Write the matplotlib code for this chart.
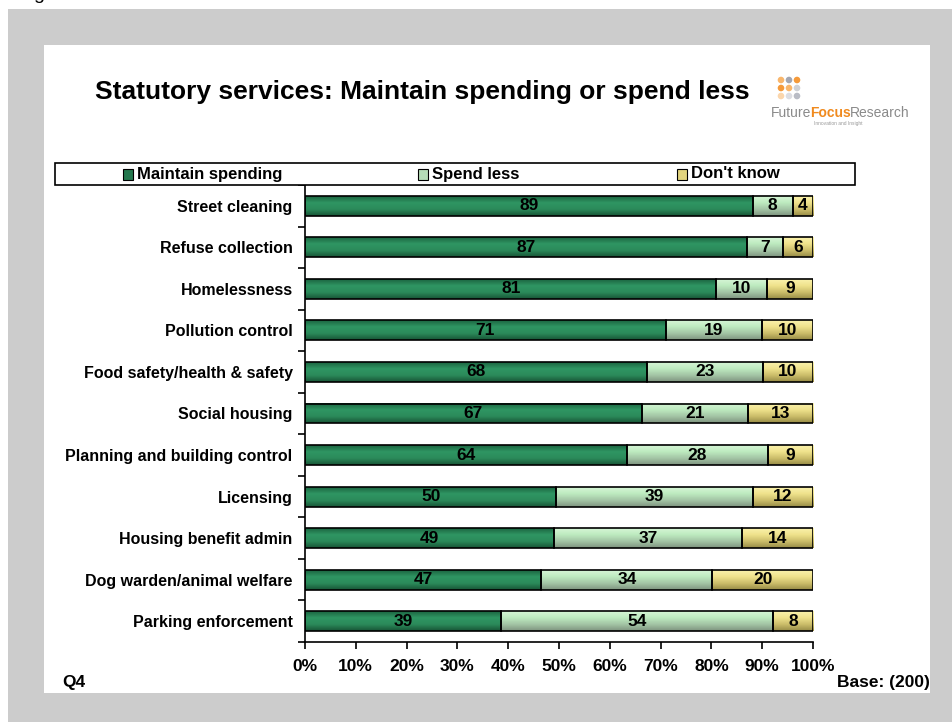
import matplotlib.pyplot as plt
import matplotlib.patches as patches
from matplotlib.colors import LinearSegmentedColormap
import numpy as np

plt.rcParams['font.family'] = ['Liberation Sans', 'DejaVu Sans']

# Survey results (raw % as reported, rows may sum to 101)
services = [
    "Street cleaning", "Refuse collection", "Homelessness", "Pollution control",
    "Food safety/health & safety", "Social housing", "Planning and building control",
    "Licensing", "Housing benefit admin", "Dog warden/animal welfare", "Parking enforcement",
]
maintain = [89, 87, 81, 71, 68, 67, 64, 50, 49, 47, 39]
spend_less = [8, 7, 10, 19, 23, 21, 28, 39, 37, 34, 54]
dont_know = [4, 6, 9, 10, 10, 13, 9, 12, 14, 20, 8]
series_names = ["Maintain spending", "Spend less", "Don't know"]
x_ticks = list(range(0, 101, 10))

# vertical gradients, top to bottom
grad_maps = [
    LinearSegmentedColormap.from_list("g1", ["#1b6440", "#2f9663", "#2b8a5a", "#175536"]),
    LinearSegmentedColormap.from_list("g2", ["#d6f6d6", "#bdeabf", "#a3c4a5", "#7e947f"]),
    LinearSegmentedColormap.from_list("g3", ["#faf2ac", "#efe28c", "#cbbd6a", "#978c46"]),
]
legend_colors = ["#24784e", "#b5dcb7", "#e2d47e"]

W, H = 953, 722
fig = plt.figure(figsize=(W / 100, H / 100), dpi=100)
fig.patch.set_facecolor("white")

def fx(px):
    return px / W

def fy(py):
    return 1 - py / H

# grey frame and white panel
fig.add_artist(patches.Rectangle((fx(8), 0), 1 - fx(8), fy(9), transform=fig.transFigure,
                                 facecolor="#cccccc", edgecolor="none", zorder=0))
fig.add_artist(patches.Rectangle((fx(44), fy(693)), fx(930 - 44), (693 - 45) / H,
                                 transform=fig.transFigure, facecolor="white",
                                 edgecolor="none", zorder=0))
fig.text(fx(33), fy(-1), "g", fontsize=14, va="baseline", ha="left")

# title
fig.text(fx(95), fy(92), "Statutory services: Maintain spending or spend less",
         fontsize=19, fontweight="bold", va="center", ha="left")

# logo: dot grid + wordmark
dot_cols = [["#f8b66c", "#a2a6b2", "#f59a3a"],
            ["#f59a3a", "#f8b66c", "#cfd1d6"],
            ["#fbd6ac", "#dcdde2", "#b9bcc5"]]
for r in range(3):
    for c in range(3):
        fig.add_artist(patches.Circle(((781 + c * 8) / 100, (H - 80 - r * 8) / 100), 0.033,
                                      transform=fig.dpi_scale_trans,
                                      facecolor=dot_cols[r][c], edgecolor="none"))
renderer = fig.canvas.get_renderer()
x_cur = 771
for part, col, wt in [("Future", "#8a8a8a", "normal"), ("Focus", "#f08a1e", "bold"),
                      ("Research", "#8a8a8a", "normal")]:
    t = fig.text(fx(x_cur), fy(113), part, fontsize=10, color=col, fontweight=wt,
                 va="center", ha="left")
    x_cur += t.get_window_extent(renderer).width - 1
fig.text(fx(838), fy(124), "Innovation and Insight", fontsize=3.5, color="#999999",
         va="center", ha="center")

# legend box
fig.add_artist(patches.Rectangle((fx(55), fy(185)), fx(855 - 55), 22 / H,
                                 transform=fig.transFigure, facecolor="white",
                                 edgecolor="black", linewidth=1.2, zorder=3))
for name, col, px in zip(series_names, legend_colors, [123, 418, 677]):
    fig.add_artist(patches.Rectangle((fx(px), fy(180)), fx(10), 11 / H,
                                     transform=fig.transFigure, facecolor=col,
                                     edgecolor="black", linewidth=0.8, zorder=4))
    fig.text(fx(px + 14), fy(174), name, fontsize=12, fontweight="bold",
             va="center", ha="left", zorder=4)

# bar chart
ax = fig.add_axes([fx(305), fy(642), fx(813 - 305), (642 - 185) / H])
ax.set_facecolor("none")

data = np.array([maintain, spend_less, dont_know], dtype=float)
pct = data / data.sum(axis=0) * 100
y = np.arange(len(services))
bar_h = 0.48
left = np.zeros(len(services))
for i in range(3):
    bars = ax.barh(y, pct[i], left=left, height=bar_h, facecolor="none",
                   edgecolor="black", linewidth=1.2, zorder=3)
    for b, raw in zip(bars, data[i]):
        bx, by, bw, bh = b.get_x(), b.get_y(), b.get_width(), b.get_height()
        grad = np.linspace(0, 1, 64).reshape(-1, 1)
        ax.imshow(grad, cmap=grad_maps[i], aspect="auto", origin="upper",
                  extent=(bx, bx + bw, by + bh, by), zorder=2, interpolation="bilinear")
        ax.text(bx + bw / 2, by + bh / 2, f"{raw:.0f}", ha="center", va="center",
                fontsize=12.5, fontweight="bold", zorder=4)
    left += pct[i]

ax.set_xlim(0, 100)
ax.set_ylim(len(services) - 0.5, -0.5)
ax.set_xticks(x_ticks)
ax.set_xticklabels([f"{v}%" for v in x_ticks], fontsize=12.5, fontweight="bold")
ax.set_yticks(y)
ax.set_yticklabels(services, fontsize=11.5, fontweight="bold")
ax.set_yticks(np.arange(len(services) + 1) - 0.5, minor=True)
ax.tick_params(axis="y", which="major", length=0, pad=9)
ax.tick_params(axis="y", which="minor", length=5, width=1.2, direction="out")
ax.tick_params(axis="x", length=5, width=1.2, direction="out", pad=7.5)
for s in ["top", "right"]:
    ax.spines[s].set_visible(False)
for s in ["left", "bottom"]:
    ax.spines[s].set_linewidth(1.2)

fig.text(fx(62), fy(683), "Q4", fontsize=12.5, fontweight="bold", va="center", ha="left")
fig.text(fx(930), fy(682), "Base: (200)", fontsize=12.5, fontweight="bold",
         va="center", ha="right")

fig.savefig("out.png", dpi=100)
